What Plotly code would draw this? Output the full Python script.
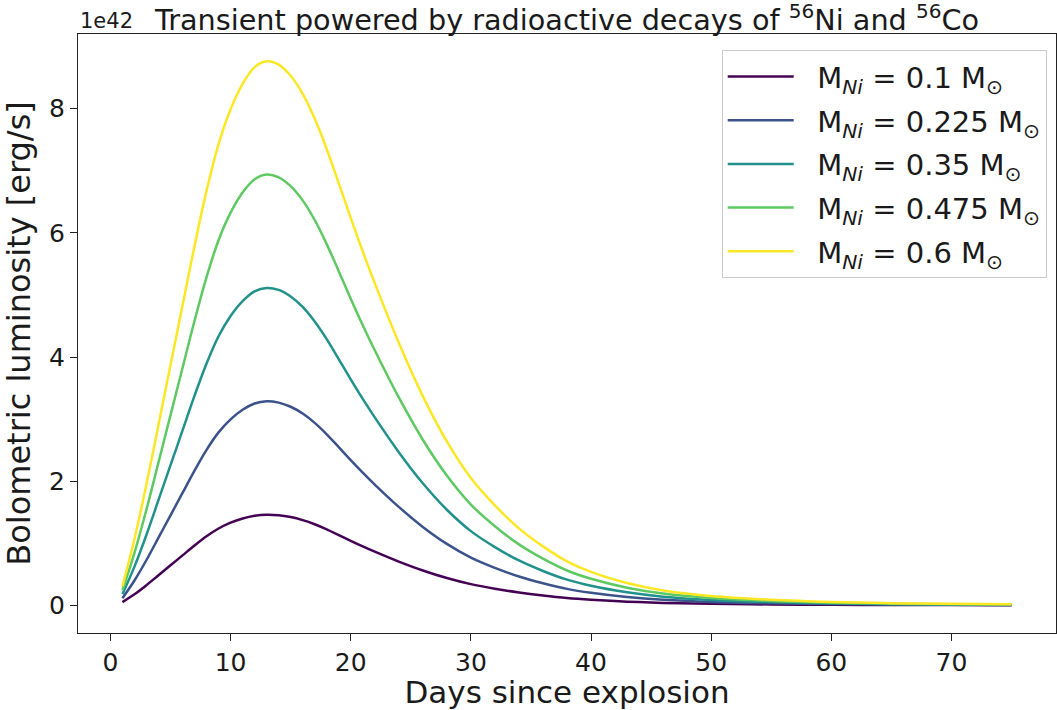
import plotly.graph_objects as go

# Days since explosion
days = [1, 2, 3, 4, 5, 6, 7, 8, 9, 10, 11, 12, 13, 14, 15, 16, 17, 18, 19, 20, 21, 22,
        24, 26, 28, 30, 32, 34, 36, 38, 40,
        43, 46, 50, 55, 60, 65, 70, 75]

# Bolometric luminosity in units of 1e42 erg/s
lum_010 = [0.052, 0.178, 0.325, 0.485, 0.645, 0.805, 0.965, 1.113, 1.238, 1.332, 1.4,
           1.445, 1.461, 1.452, 1.422, 1.373, 1.307, 1.225, 1.133, 1.04, 0.95, 0.865,
           0.705, 0.562, 0.44, 0.342, 0.268, 0.207, 0.158, 0.118, 0.09,
           0.06, 0.04, 0.025, 0.015, 0.009, 0.006, 0.004, 0.003]
lum_0225 = [0.116, 0.401, 0.731, 1.091, 1.451, 1.811, 2.171, 2.505, 2.786, 2.996, 3.15,
            3.251, 3.287, 3.266, 3.199, 3.09, 2.94, 2.756, 2.55, 2.34, 2.138, 1.946,
            1.586, 1.264, 0.99, 0.769, 0.604, 0.465, 0.356, 0.266, 0.203,
            0.135, 0.09, 0.056, 0.034, 0.021, 0.013, 0.009, 0.008]
lum_035 = [0.181, 0.624, 1.138, 1.698, 2.258, 2.818, 3.378, 3.897, 4.334, 4.661, 4.9,
           5.058, 5.113, 5.081, 4.976, 4.807, 4.573, 4.288, 3.967, 3.64, 3.325, 3.028,
           2.468, 1.966, 1.54, 1.196, 0.939, 0.723, 0.554, 0.414, 0.315,
           0.21, 0.14, 0.088, 0.053, 0.032, 0.02, 0.015, 0.012]
lum_0475 = [0.245, 0.847, 1.544, 2.304, 3.064, 3.824, 4.584, 5.288, 5.882, 6.325, 6.65,
            6.864, 6.939, 6.895, 6.753, 6.523, 6.207, 5.819, 5.383, 4.94, 4.513, 4.109,
            3.349, 2.668, 2.09, 1.623, 1.275, 0.982, 0.752, 0.562, 0.428,
            0.285, 0.19, 0.119, 0.071, 0.044, 0.028, 0.02, 0.016]
lum_060 = [0.31, 1.07, 1.95, 2.91, 3.87, 4.83, 5.79, 6.68, 7.43, 7.99, 8.40,
           8.67, 8.765, 8.71, 8.53, 8.24, 7.84, 7.35, 6.80, 6.24, 5.70, 5.19,
           4.23, 3.37, 2.64, 2.05, 1.61, 1.24, 0.95, 0.71, 0.54,
           0.36, 0.24, 0.15, 0.09, 0.055, 0.035, 0.025, 0.02]

masses = ["0.1", "0.225", "0.35", "0.475", "0.6"]
series = [lum_010, lum_0225, lum_035, lum_0475, lum_060]
colors = ["#440154", "#3b528b", "#21918c", "#5ec962", "#fde725"]

x_ticks = [0, 10, 20, 30, 40, 50, 60, 70]
y_ticks = [0, 2, 4, 6, 8]

FONT = "DejaVu Sans"
TXT = "#1a1a1a"

fig = go.Figure()
for m, ys, c in zip(masses, series, colors):
    fig.add_trace(go.Scatter(
        x=days, y=ys, mode="lines",
        line=dict(color=c, width=2.5, shape="spline", smoothing=1.0),
        name=f"\u00a0\u00a0M<sub><i>Ni</i></sub> = {m} M<sub>⊙</sub>",
        legendgroup=m,
    ))

axis_common = dict(
    showline=True, mirror=True, linecolor="#222222", linewidth=1.2,
    ticks="outside", ticklen=7, tickwidth=1.2, tickcolor="#222222",
    showgrid=False, zeroline=False,
    tickfont=dict(family=FONT, size=25, color=TXT),
)

fig.update_layout(
    width=1057, height=710,
    margin=dict(l=78, r=1, t=34, b=77),
    paper_bgcolor="white", plot_bgcolor="white",
    font=dict(family=FONT, color=TXT),
    title=dict(
        text="Transient powered by radioactive decays of <sup>56</sup>Ni and <sup>56</sup>Co",
        font=dict(family=FONT, size=28.7, color=TXT),
        x=0.5, xref="paper", xanchor="center",
        y=0.972, yref="container", yanchor="middle",
    ),
    xaxis=dict(
        range=[-2.7, 78.7], tickvals=x_ticks,
        title=dict(text="Days since explosion", font=dict(family=FONT, size=31, color=TXT), standoff=8),
        **axis_common,
    ),
    yaxis=dict(
        range=[-0.445, 9.203], tickvals=y_ticks,
        title=dict(text="Bolometric luminosity [erg/s]", font=dict(family=FONT, size=32, color=TXT), standoff=8),
        **axis_common,
    ),
    legend=dict(
        x=0.9905, xanchor="right", y=0.973, yanchor="top",
        bgcolor="rgba(255,255,255,0.85)", bordercolor="#cccccc", borderwidth=1,
        font=dict(family=FONT, size=29, color=TXT),
        tracegroupgap=3, itemwidth=66,
    ),
    showlegend=True,
)

fig.add_annotation(
    text="1e42", xref="paper", yref="paper", x=0, y=1,
    xanchor="left", yanchor="bottom", yshift=-1, showarrow=False,
    font=dict(family=FONT, size=21, color=TXT),
)

fig.write_html("out.html")
